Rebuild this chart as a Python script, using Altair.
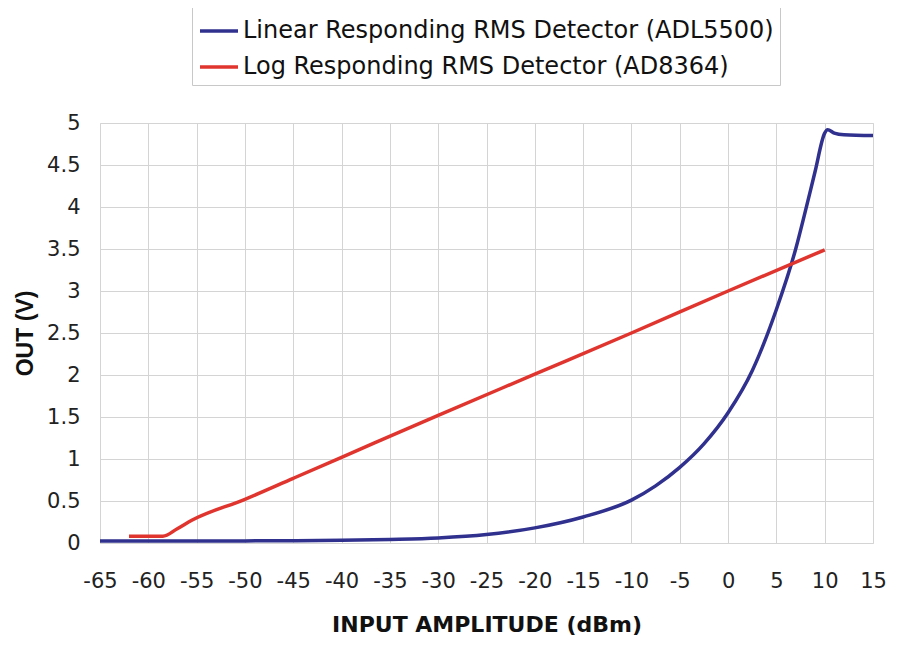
import altair as alt
import pandas as pd

linear_name = "Linear Responding RMS Detector (ADL5500)"
log_name = "Log Responding RMS Detector (AD8364)"

lin_x = [-65, -60, -55, -50, -45, -40, -35, -30, -25, -20, -15, -10, -7.5, -5, -2.5, 0, 2.5, 5, 7, 8, 9, 10, 10.3, 11, 12, 15]
lin_y = [0.025, 0.025, 0.025, 0.025, 0.028, 0.033, 0.043, 0.06, 0.1, 0.18, 0.31, 0.51, 0.68, 0.9, 1.18, 1.55, 2.05, 2.78, 3.5, 3.95, 4.42, 4.88, 4.92, 4.88, 4.86, 4.85]

log_x = [-62, -58.5, -57, -55.5, -50, -45, -40, -30, -20, -10, 0, 10]
log_y = [0.08, 0.08, 0.17, 0.27, 0.52, 0.77, 1.02, 1.52, 2.01, 2.5, 3.0, 3.49]

x_ticks = list(range(-65, 16, 5))
y_ticks = [0, 0.5, 1, 1.5, 2, 2.5, 3, 3.5, 4, 4.5, 5]

rows = []
for i, (x, y) in enumerate(zip(lin_x, lin_y)):
    rows.append({"x": x, "y": y, "series": linear_name, "order": i})
for i, (x, y) in enumerate(zip(log_x, log_y)):
    rows.append({"x": x, "y": y, "series": log_name, "order": i})
df = pd.DataFrame(rows)

WIDE = "DejaVu Sans"
NARROW = "Liberation Sans"

chart = alt.Chart(df).mark_line(interpolate="monotone", strokeWidth=3.5).encode(
    x=alt.X("x:Q", scale=alt.Scale(domain=[-65, 15], nice=False, zero=False),
            axis=alt.Axis(values=x_ticks, title="INPUT AMPLITUDE (dBm)", tickSize=0,
                          labelExpr="datum.value + ''",
                          labelPadding=27, labelFontSize=21, labelColor="#222",
                          titleFontSize=22, titleFontWeight="bold", titleColor="#111",
                          titlePadding=23, domain=False, gridColor="#d4d4d4",
                          labelFont=WIDE, titleFont=WIDE, labelFlush=False)),
    y=alt.Y("y:Q", scale=alt.Scale(domain=[0, 5], nice=False),
            axis=alt.Axis(values=y_ticks, title="OUT (V)", tickSize=0, labelPadding=20,
                          labelExpr="datum.value + ''",
                          labelFontSize=21, labelColor="#222", titleFontSize=23,
                          titleFontWeight="bold", titleColor="#111", titlePadding=9,
                          domain=False, gridColor="#d4d4d4", labelFont=WIDE, titleFont=NARROW,
                          labelFlush=False)),
    color=alt.Color("series:N",
                    scale=alt.Scale(domain=[linear_name, log_name], range=["#30308e", "#e0352f"]),
                    legend=alt.Legend(title=None, orient="none", legendX=92, legendY=-119,
                                      symbolType="M-1,0H1", symbolSize=1444, symbolStrokeWidth=3.5,
                                      labelFontSize=24, labelFont=WIDE, labelColor="#111",
                                      fillColor="white", strokeColor="#c8c8c8", padding=6,
                                      rowPadding=3, labelOffset=3, labelLimit=800)),
    order="order:Q",
).properties(
    width=773, height=420,
    autosize=alt.AutoSizeParams(type="none"),
    padding={"left": 92, "top": 115, "right": 19, "bottom": 94},
).configure_view(stroke=None).configure(background="white")

chart.save("out.html", embed_options={"renderer": "svg", "actions": False})
